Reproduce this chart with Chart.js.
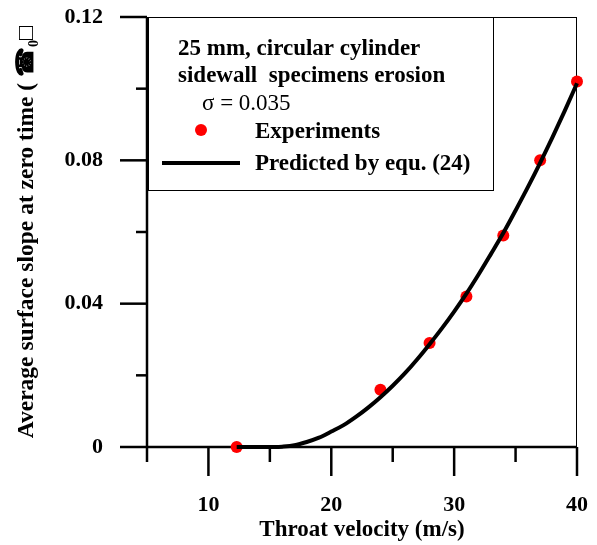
<!DOCTYPE html>
<html lang="en">
<head>
<meta charset="UTF-8" />
<title>Average surface slope at zero time</title>
<script src="https://cdn.jsdelivr.net/npm/chart.js"></script>
<style>
  html, body { margin: 0; padding: 0; background: #fff; }
</style>
</head>
<body>
<canvas id="chart" width="597" height="545"></canvas>
<script>
  // experiments (red dots)
  const expVelocity = [12.3, 24, 28, 31, 34, 37, 40];
  const expSlope = [0, 0.016, 0.029, 0.042, 0.059, 0.080, 0.102];

  // predicted curve
  const predVelocity = [12.3, 13, 14, 15, 15.5, 16, 17, 18, 19, 20, 21, 22, 23, 24, 25, 26, 27, 28, 29, 30, 31, 32, 33, 34, 35, 36, 37, 38, 39, 40];
  const predSlope = [0, 0, 0, 0, 0, 0.0001, 0.0005, 0.0014, 0.0026, 0.0043, 0.0061, 0.0084, 0.011, 0.0139, 0.0171, 0.0206, 0.0245, 0.0287, 0.0331, 0.0378, 0.0428, 0.0482, 0.0539, 0.0597, 0.066, 0.0725, 0.0793, 0.0864, 0.0938, 0.1015];

  const xMajorTicks = [10, 20, 30, 40];
  const xMinorTicks = [5, 15, 25, 35];
  const yMajorTicks = [0, 0.04, 0.08, 0.12];
  const yMinorTicks = [0.02, 0.06, 0.10];

  const legendTitle = ['25 mm, circular cylinder', 'sidewall  specimens erosion'];
  const sigmaText = 'σ = 0.035';
  const seriesNames = ['Experiments', 'Predicted by equ. (24)'];

  const serif = "'Liberation Serif', 'Times New Roman', serif";
  Chart.defaults.font.family = serif;
  Chart.defaults.color = '#000';

  function line(ctx, x1, y1, x2, y2) {
    ctx.beginPath();
    ctx.moveTo(x1, y1);
    ctx.lineTo(x2, y2);
    ctx.stroke();
  }

  // frame, axes and tick marks
  const axesPlugin = {
    id: 'axes',
    beforeDatasetsDraw(chart) {
      const { ctx, chartArea: a, scales: { x, y } } = chart;
      ctx.save();
      ctx.strokeStyle = '#000';
      ctx.lineWidth = 1;
      line(ctx, a.left, a.top + 0.5, a.right, a.top + 0.5);
      line(ctx, a.right - 0.5, a.top, a.right - 0.5, a.bottom);
      ctx.lineWidth = 2.5;
      line(ctx, a.left, a.top, a.left, a.bottom);
      line(ctx, a.left, a.bottom, a.right, a.bottom);
      xMajorTicks.forEach(v => { const p = x.getPixelForValue(v); line(ctx, p, a.bottom, p, a.bottom + 29); });
      xMinorTicks.forEach(v => { const p = x.getPixelForValue(v); line(ctx, p, a.bottom, p, a.bottom + 15); });
      yMajorTicks.forEach(v => { const p = y.getPixelForValue(v); line(ctx, a.left - 27, p, a.left, p); });
      yMinorTicks.forEach(v => { const p = y.getPixelForValue(v); line(ctx, a.left - 11, p, a.left, p); });
      ctx.restore();
    }
  };

  // legend box in the upper left corner
  const legendPlugin = {
    id: 'legendBox',
    afterDraw(chart) {
      const { ctx, chartArea: a } = chart;
      ctx.save();
      ctx.fillStyle = '#fff';
      ctx.strokeStyle = '#000';
      ctx.lineWidth = 1;
      ctx.fillRect(a.left + 1, a.top + 1, 345, 172);
      ctx.strokeRect(a.left + 1.5, a.top + 0.5, 345, 173);

      ctx.fillStyle = '#000';
      ctx.textBaseline = 'alphabetic';
      ctx.font = 'bold 23px ' + serif;
      ctx.fillText(legendTitle[0], a.left + 31, a.top + 38);
      ctx.fillText(legendTitle[1], a.left + 31, a.top + 65);
      ctx.font = '23px ' + serif;
      ctx.fillText(sigmaText, a.left + 55, a.top + 93);

      ctx.fillStyle = '#ff0000';
      ctx.beginPath();
      ctx.arc(a.left + 54, a.top + 113, 6, 0, Math.PI * 2);
      ctx.fill();
      ctx.strokeStyle = '#000';
      ctx.lineWidth = 4;
      line(ctx, a.left + 15, a.top + 146, a.left + 93, a.top + 146);

      ctx.fillStyle = '#000';
      ctx.font = 'bold 23px ' + serif;
      ctx.fillText(seriesNames[0], a.left + 108, a.top + 121);
      ctx.fillText(seriesNames[1], a.left + 108, a.top + 153);
      ctx.restore();
    }
  };

  new Chart(document.getElementById('chart'), {
    type: 'scatter',
    data: {
      datasets: [
        {
          label: seriesNames[1],
          type: 'line',
          data: predVelocity.map((v, i) => ({ x: v, y: predSlope[i] })),
          borderColor: '#000',
          borderWidth: 4,
          pointRadius: 0,
          cubicInterpolationMode: 'monotone',
          fill: false,
          clip: false,
          order: 0
        },
        {
          label: seriesNames[0],
          data: expVelocity.map((v, i) => ({ x: v, y: expSlope[i] })),
          backgroundColor: '#ff0000',
          borderColor: '#ff0000',
          pointRadius: 6,
          pointBorderWidth: 0,
          clip: false,
          order: 1
        }
      ]
    },
    options: {
      responsive: false,
      animation: false,
      layout: { padding: { left: 0, right: 20, top: 17, bottom: 0 } },
      plugins: { legend: { display: false }, tooltip: { enabled: false } },
      scales: {
        x: {
          type: 'linear',
          min: 5,
          max: 40,
          afterFit: s => { s.height = 98; s.paddingLeft = 0; s.paddingRight = 0; },
          afterBuildTicks: s => { s.ticks = xMajorTicks.map(v => ({ value: v })); },
          grid: { display: false, drawTicks: false },
          border: { display: false },
          ticks: { padding: 45, font: { size: 22, weight: 'bold' }, maxRotation: 0 },
          title: {
            display: true,
            text: 'Throat velocity (m/s)',
            font: { size: 23, weight: 'bold' },
            padding: { top: 0, bottom: 1 }
          }
        },
        y: {
          min: 0,
          max: 0.12,
          afterFit: s => { s.width = 147; s.paddingTop = 0; s.paddingBottom = 0; },
          afterBuildTicks: s => { s.ticks = yMajorTicks.map(v => ({ value: v })); },
          grid: { display: false, drawTicks: false },
          border: { display: false },
          ticks: {
            padding: 44,
            font: { size: 22, weight: 'bold' },
            callback: v => v === 0 ? '0' : v.toFixed(2)
          },
          title: {
            display: true,
            text: 'Average surface slope at zero time ( ☎₀□',
            font: { size: 23.5, weight: 'bold' },
            padding: { top: 13, bottom: 0 }
          }
        }
      }
    },
    plugins: [axesPlugin, legendPlugin]
  });
</script>
</body>
</html>
